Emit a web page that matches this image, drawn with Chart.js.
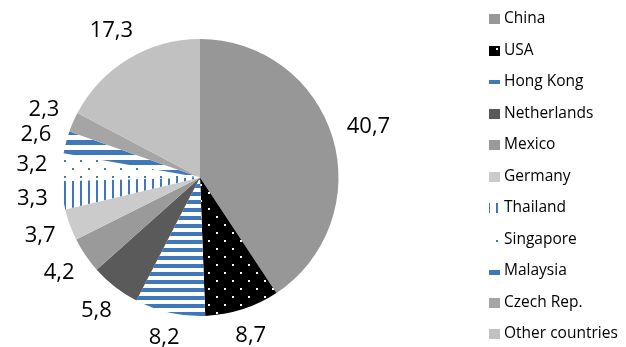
<!DOCTYPE html>
<html lang="en">
<head>
  <meta charset="UTF-8">
  <title>Export shares pie</title>
  <script src="https://cdn.jsdelivr.net/npm/chart.js"></script>
  <style>
    body { margin: 0; background: #fff; }
    #wrap { width: 626px; height: 347px; }
  </style>
</head>
<body>
  <div id="wrap"><canvas id="pie"></canvas></div>

  <script>
    const countries = ['China', 'USA', 'Hong Kong', 'Netherlands', 'Mexico', 'Germany',
      'Thailand', 'Singapore', 'Malaysia', 'Czech Rep.', 'Other countries'];
    const shares = [40.7, 8.7, 8.2, 5.8, 4.2, 3.7, 3.3, 3.2, 2.6, 2.3, 17.3];

    const BLUE = '#3f77bb';

    // little tiles for the hatched slices
    function tile(w, h, paint) {
      const c = document.createElement('canvas');
      c.width = w; c.height = h;
      const g = c.getContext('2d');
      paint(g);
      return g.createPattern(c, 'repeat');
    }
    const dotsOnBlack = tile(16, 16, g => {
      g.fillStyle = '#000'; g.fillRect(0, 0, 16, 16);
      g.fillStyle = '#fff'; g.fillRect(0, 0, 2, 2); g.fillRect(8, 8, 2, 2);
    });
    const blueDots = tile(16, 16, g => {
      g.fillStyle = '#fff'; g.fillRect(0, 0, 16, 16);
      g.fillStyle = BLUE; g.fillRect(0, 0, 2, 2); g.fillRect(8, 8, 2, 2);
    });
    const hStripes = tile(8, 8, g => {
      g.fillStyle = '#fff'; g.fillRect(0, 0, 8, 8);
      g.fillStyle = BLUE; g.fillRect(0, 0, 8, 4);
    });
    const vStripes = tile(8, 8, g => {
      g.fillStyle = '#fff'; g.fillRect(0, 0, 8, 8);
      g.fillStyle = BLUE; g.fillRect(0, 0, 2, 8);
    });
    const wideStripes = tile(10, 10, g => {
      g.fillStyle = '#fff'; g.fillRect(0, 0, 10, 10);
      g.fillStyle = BLUE; g.fillRect(0, 0, 10, 5);
    });

    const fills = ['#979797', dotsOnBlack, hStripes, '#5a5a5a', '#9a9a9a', '#cbcbcb',
      vStripes, blueDots, wideStripes, '#a5a5a5', '#c1c1c1'];

    // value labels outside each slice
    const outsideLabels = {
      id: 'outsideLabels',
      afterDatasetsDraw(chart) {
        const ctx = chart.ctx;
        const meta = chart.getDatasetMeta(0);
        ctx.save();
        ctx.font = '22px "Open Sans"';
        ctx.fillStyle = '#000';
        ctx.textAlign = 'center';
        ctx.textBaseline = 'middle';
        meta.data.forEach((arc, i) => {
          const p = arc.getProps(['x', 'y', 'startAngle', 'endAngle', 'outerRadius'], true);
          const mid = (p.startAngle + p.endAngle) / 2;
          const txt = String(shares[i]).replace('.', ',');
          const w = ctx.measureText(txt).width;
          const h = 18;
          const c = Math.cos(mid), s = Math.sin(mid);
          const d = p.outerRadius + 14 + Math.abs(c) * w / 2 + Math.abs(s) * h / 2;
          ctx.fillText(txt, p.x + c * d, p.y + s * d);
        });
        ctx.restore();
      }
    };

    // legend column on the right
    const sideLegend = {
      id: 'sideLegend',
      afterDraw(chart) {
        const ctx = chart.ctx;
        const ds = chart.data.datasets[0];
        ctx.save();
        ctx.font = '15.5px "Open Sans"';
        ctx.textBaseline = 'middle';
        chart.data.labels.forEach((lab, i) => {
          const y = 19 + i * 31.5;
          ctx.fillStyle = ds.backgroundColor[i];
          ctx.fillRect(489, Math.round(y - 5), 11, 10);
          ctx.fillStyle = '#000';
          ctx.fillText(lab, 504, y);
        });
        ctx.restore();
      }
    };

    new Chart(document.getElementById('pie'), {
      type: 'pie',
      data: {
        labels: countries,
        datasets: [{
          data: shares,
          backgroundColor: fills,
          borderWidth: 0
        }]
      },
      options: {
        responsive: true,
        maintainAspectRatio: false,
        animation: false,
        layout: { padding: { left: 61.5, right: 287.5, top: 39, bottom: 31 } },
        plugins: {
          legend: { display: false },
          tooltip: { enabled: false }
        }
      },
      plugins: [outsideLabels, sideLegend]
    });
  </script>
</body>
</html>
